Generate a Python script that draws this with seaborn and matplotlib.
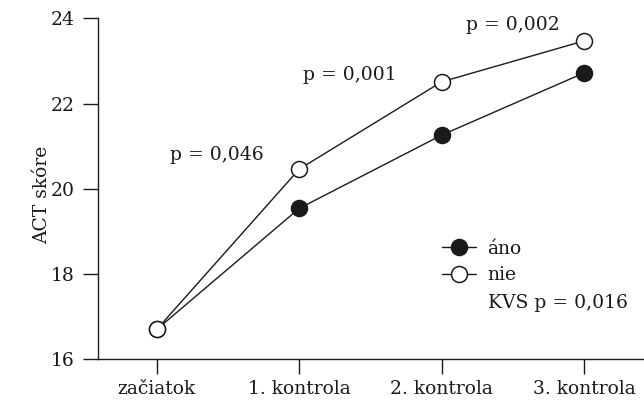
import matplotlib
matplotlib.use("Agg")
import matplotlib.pyplot as plt
import seaborn as sns
import pandas as pd
from matplotlib.lines import Line2D

# data
visits = ["začiatok", "1. kontrola", "2. kontrola", "3. kontrola"]
ano = [16.70, 19.54, 21.26, 22.72]
nie = [16.70, 20.46, 22.51, 23.47]
p_labels = ["p = 0,046", "p = 0,001", "p = 0,002"]
series_names = ["áno", "nie"]
kvs_label = "KVS p = 0,016"

sns.set_style("ticks")
plt.rcParams["font.family"] = ["DejaVu Serif"]
FS = 13.5
INK = "#1a1a1a"

df = pd.DataFrame({"visit": visits * 2,
                   "score": ano + nie,
                   "group": ["áno"] * 4 + ["nie"] * 4})

fig = plt.figure(figsize=(6.44, 4.07), dpi=100)
ax = fig.add_axes([98.3 / 644, 1 - 359.3 / 407, 1 - 98.3 / 644, (359.3 - 18.3) / 407])

# áno = filled circles, nie = open circles (drawn on top)
sns.pointplot(data=df[df.group == "áno"], x="visit", y="score", order=visits,
              color=INK, markers="o", markersize=11.5, linewidth=1.0,
              markerfacecolor=INK, markeredgewidth=1.1, ax=ax)
sns.pointplot(data=df[df.group == "nie"], x="visit", y="score", order=visits,
              color=INK, markers="o", markersize=11.5, linewidth=1.0,
              markerfacecolor="white", markeredgewidth=1.1, ax=ax)

ax.set_xlim(-0.41, 3.42)
ax.set_ylim(16, 24)
ax.set_yticks([16, 18, 20, 22, 24])
ax.set_xlabel("")
ax.set_ylabel("ACT skóre", fontsize=FS, color=INK)
ax.yaxis.set_label_coords(-0.087, 0.482)
sns.despine(ax=ax)
for s in ["left", "bottom"]:
    ax.spines[s].set_linewidth(1.0)
    ax.spines[s].set_color(INK)
ax.tick_params(axis="both", length=11, width=1.0, color=INK,
               labelsize=FS, labelcolor=INK, pad=6)
ax.tick_params(axis="x", pad=4)

# p-values over the comparisons
ax.text(0.423, 20.79, p_labels[0], fontsize=FS, ha="center", va="center", color=INK)
ax.text(1.357, 22.67, p_labels[1], fontsize=FS, ha="center", va="center", color=INK)
ax.text(2.50, 23.84, p_labels[2], fontsize=FS, ha="center", va="center", color=INK)

handles = [Line2D([], [], color=INK, lw=1.0, marker="o", markersize=11.5,
                  markerfacecolor=INK, markeredgewidth=1.1),
           Line2D([], [], color=INK, lw=1.0, marker="o", markersize=11.5,
                  markerfacecolor="white", markeredgewidth=1.1)]
leg = ax.legend(handles, series_names, loc="upper left", frameon=False, fontsize=FS,
                bbox_to_anchor=(442 / 644, 1 - 240 / 407), bbox_transform=fig.transFigure,
                borderaxespad=0, borderpad=0, handlelength=1.8, handletextpad=0.6,
                labelspacing=0.45)
for t in leg.get_texts():
    t.set_color(INK)
fig.text(488 / 644, 1 - 303 / 407, kvs_label, fontsize=FS, va="center", color=INK)

fig.savefig("out.png", dpi=100)
